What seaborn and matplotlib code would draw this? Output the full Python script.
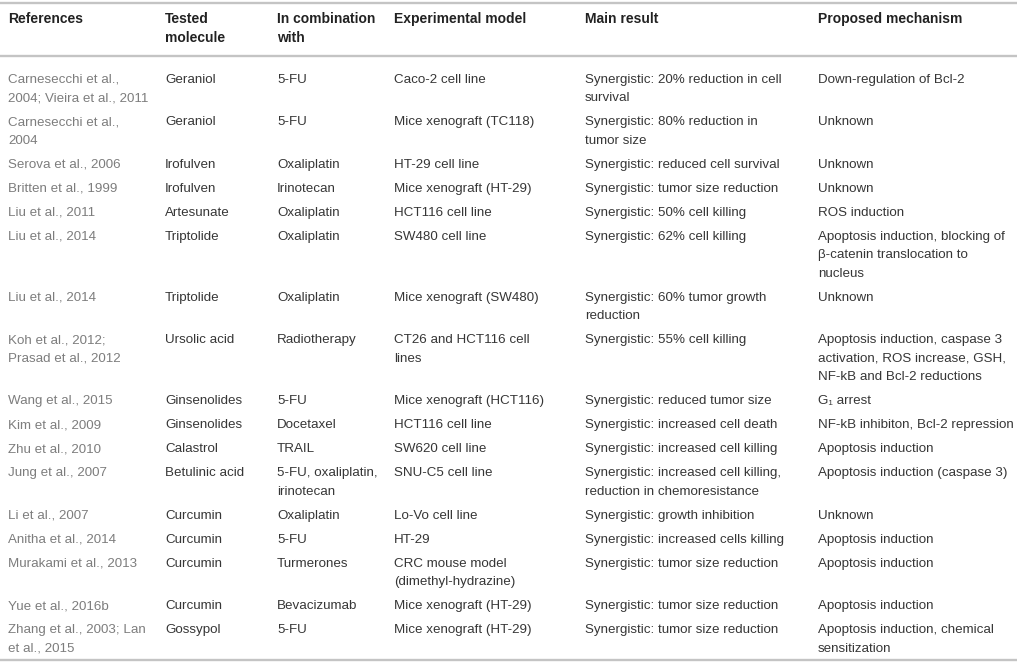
import matplotlib
matplotlib.use("Agg")
import matplotlib.pyplot as plt
import seaborn as sns

# ==================== 表格数据 ====================

headers = ["References", "Tested\nmolecule", "In combination\nwith",
           "Experimental model", "Main result", "Proposed mechanism"]

references = [
    "Carnesecchi et al.,\n2004; Vieira et al., 2011",
    "Carnesecchi et al.,\n2004",
    "Serova et al., 2006",
    "Britten et al., 1999",
    "Liu et al., 2011",
    "Liu et al., 2014",
    "Liu et al., 2014",
    "Koh et al., 2012;\nPrasad et al., 2012",
    "Wang et al., 2015",
    "Kim et al., 2009",
    "Zhu et al., 2010",
    "Jung et al., 2007",
    "Li et al., 2007",
    "Anitha et al., 2014",
    "Murakami et al., 2013",
    "Yue et al., 2016b",
    "Zhang et al., 2003; Lan\net al., 2015",
]

molecules = [
    "Geraniol", "Geraniol", "Irofulven", "Irofulven", "Artesunate",
    "Triptolide", "Triptolide", "Ursolic acid", "Ginsenolides", "Ginsenolides",
    "Calastrol", "Betulinic acid", "Curcumin", "Curcumin", "Curcumin",
    "Curcumin", "Gossypol",
]

combinations = [
    "5-FU", "5-FU", "Oxaliplatin", "Irinotecan", "Oxaliplatin",
    "Oxaliplatin", "Oxaliplatin", "Radiotherapy", "5-FU", "Docetaxel",
    "TRAIL", "5-FU, oxaliplatin,\nirinotecan", "Oxaliplatin", "5-FU",
    "Turmerones", "Bevacizumab", "5-FU",
]

models = [
    "Caco-2 cell line",
    "Mice xenograft (TC118)",
    "HT-29 cell line",
    "Mice xenograft (HT-29)",
    "HCT116 cell line",
    "SW480 cell line",
    "Mice xenograft (SW480)",
    "CT26 and HCT116 cell\nlines",
    "Mice xenograft (HCT116)",
    "HCT116 cell line",
    "SW620 cell line",
    "SNU-C5 cell line",
    "Lo-Vo cell line",
    "HT-29",
    "CRC mouse model\n(dimethyl-hydrazine)",
    "Mice xenograft (HT-29)",
    "Mice xenograft (HT-29)",
]

results = [
    "Synergistic: 20% reduction in cell\nsurvival",
    "Synergistic: 80% reduction in\ntumor size",
    "Synergistic: reduced cell survival",
    "Synergistic: tumor size reduction",
    "Synergistic: 50% cell killing",
    "Synergistic: 62% cell killing",
    "Synergistic: 60% tumor growth\nreduction",
    "Synergistic: 55% cell killing",
    "Synergistic: reduced tumor size",
    "Synergistic: increased cell death",
    "Synergistic: increased cell killing",
    "Synergistic: increased cell killing,\nreduction in chemoresistance",
    "Synergistic: growth inhibition",
    "Synergistic: increased cells killing",
    "Synergistic: tumor size reduction",
    "Synergistic: tumor size reduction",
    "Synergistic: tumor size reduction",
]

mechanisms = [
    "Down-regulation of Bcl-2",
    "Unknown",
    "Unknown",
    "Unknown",
    "ROS induction",
    "Apoptosis induction, blocking of\n\u03b2-catenin translocation to\nnucleus",
    "Unknown",
    "Apoptosis induction, caspase 3\nactivation, ROS increase, GSH,\nNF-kB and Bcl-2 reductions",
    "G\u2081 arrest",
    "NF-kB inhibiton, Bcl-2 repression",
    "Apoptosis induction",
    "Apoptosis induction (caspase 3)",
    "Unknown",
    "Apoptosis induction",
    "Apoptosis induction",
    "Apoptosis induction",
    "Apoptosis induction, chemical\nsensitization",
]

# ==================== 版式参数 ====================

W, H = 1017, 662
col_x = [8, 165, 277, 394, 585, 818]
line_h = 18.5      # 行内行距
row_gap = 24.0     # 单行记录的行高
font_size = 9.6
head_size = 10.0
rule_color = "#c4c4c4"
ref_color = "#7d7d7d"
body_color = "#363636"
head_color = "#222222"


def draw_cell(ax, x, y0, text, size=font_size, **kw):
    """逐行绘制单元格文本 (y0 为首行中心)"""
    for k, line in enumerate(text.split("\n")):
        ax.text(x, y0 + k * line_h + 4.6, line, va="baseline", ha="left",
                fontsize=size, **kw)


sns.set_theme(style="white")
plt.rcParams["font.family"] = ["Liberation Sans", "DejaVu Sans"]

fig = plt.figure(figsize=(W / 100, H / 100), dpi=100)
ax = fig.add_axes([0, 0, 1, 1])
ax.set_xlim(0, W)
ax.set_ylim(H, 0)
ax.axis("off")

# 横线
for yy in [2.5, 56, 660]:
    ax.axhline(yy, color=rule_color, linewidth=1.7)

# 表头
for x, h in zip(col_x, headers):
    draw_cell(ax, x, 18.5, h, size=head_size, color=head_color,
              fontweight="bold")

# 数据行
columns = [references, molecules, combinations, models, results, mechanisms]
y = 78.0
for i in range(len(references)):
    cells = [c[i] for c in columns]
    n_lines = max(c.count("\n") + 1 for c in cells)
    for j, (x, txt) in enumerate(zip(col_x, cells)):
        draw_cell(ax, x, y, txt, color=ref_color if j == 0 else body_color)
    y += (n_lines - 1) * line_h + row_gap

fig.savefig("out.png", dpi=100)
plt.close(fig)
